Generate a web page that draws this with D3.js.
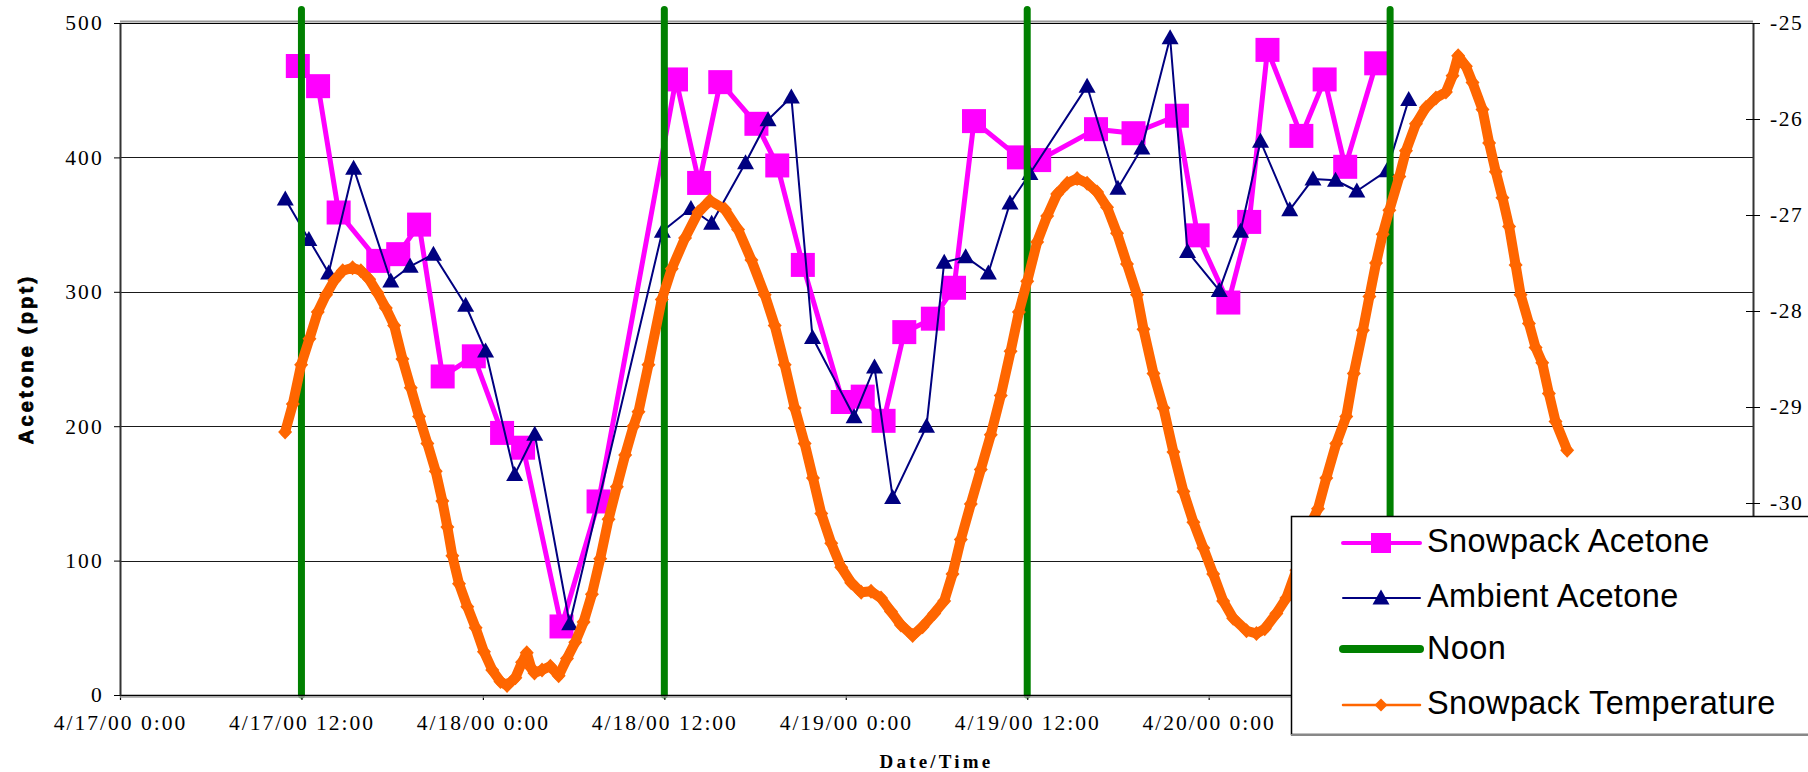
<!DOCTYPE html>
<html><head><meta charset="utf-8">
<script src="https://cdn.jsdelivr.net/npm/d3@7"></script>
<style>html,body{margin:0;padding:0;background:#fff;overflow:hidden}</style>
</head><body>
<svg id="c" width="1808" height="772"></svg>
<script>
// ---------------- data (hours since 4/17/00 0:00) ----------------
const axisStart = new Date(2000, 3, 17, 0, 0);
const axisEnd = new Date(2000, 3, 21, 12, 0);

const snowHours = [11.76,13.1,14.46,17.08,18.4,19.78,21.34,23.4,25.27,26.66,29.2,31.65,
  36.77,38.3,39.7,42.09,43.47,45.16,47.8,49.12,50.5,51.87,53.76,55.16,56.48,59.45,60.79,
  64.55,67.03,69.9,71.27,73.3,74.68,75.89,78.13,79.67,81.03,83.08];
const snowAcetone = [468,453,359,323,328,350,237,252,195,184,51,144,
  458,381,456,425,394,320,218,222,204,270,280,303,427,400,398,
  421,418,431,342,292,352,480,416,458,393,470];

const ambHours = [10.93,12.49,13.8,15.45,17.91,19.19,20.73,22.86,24.18,26.1,27.43,29.74,
  35.87,37.76,39.13,41.37,42.86,44.4,45.8,48.55,49.9,51.1,53.34,54.51,55.93,57.43,58.86,60.18,
  63.96,66.0,67.58,69.45,70.6,72.7,74.11,75.43,77.36,78.9,80.39,81.8,83.78,85.23];
const ambAcetone = [369,339,314,392,308,319,328,290,256,164,194,53,
  345,362,351,396,428,445,266,207,244,147,200,322,326,314,366,388,
  453,377,407,489,330,301,345,412,361,384,383,375,390,443];

const noonHours = [12, 36, 60, 84];
const noonSpan = [0, 510];

const tempHours = [10.92,11.43,11.98,12.53,13.08,13.63,14.18,14.73,15.38,15.93,16.48,17.03,17.58,18.13,
  18.68,19.23,19.78,20.33,20.88,21.32,21.65,21.98,22.42,22.97,23.52,24.07,24.62,25.16,25.6,26.15,
  26.59,26.9,27.2,27.41,27.91,28.46,29.01,29.56,30.11,30.66,31.21,31.76,32.31,32.86,33.41,33.96,
  34.29,34.95,35.83,36.49,37.37,38.25,39.01,40.0,40.88,41.76,42.64,43.3,43.96,44.62,45.28,45.83,
  46.38,47.04,47.7,48.36,49.02,49.67,50.33,50.99,51.65,52.42,53.08,53.85,54.51,55.06,55.61,56.27,
  56.93,57.59,58.25,58.9,59.45,60.0,60.66,61.32,61.98,62.64,63.3,63.96,64.62,65.28,65.94,66.6,
  67.26,67.69,68.35,69.01,69.67,70.33,70.99,71.65,72.3,72.96,73.62,74.5,75.16,75.71,76.48,77.14,
  77.8,78.5,79.23,79.78,80.44,81.1,81.6,82.2,82.63,83.07,83.51,83.95,84.61,85.05,85.71,86.37,
  87.03,87.69,88.13,88.5,89.01,89.45,90.11,90.55,90.99,91.43,91.87,92.3,92.63,93.18,93.62,94.06,
  94.5,94.94,95.71];
const tempValues = [-29.26,-28.97,-28.56,-28.29,-28.01,-27.83,-27.68,-27.58,-27.55,-27.58,-27.67,-27.81,-27.97,-28.15,
  -28.5,-28.8,-29.1,-29.38,-29.67,-29.98,-30.25,-30.55,-30.84,-31.08,-31.3,-31.55,-31.74,-31.86,-31.9,-31.82,
  -31.66,-31.56,-31.72,-31.77,-31.74,-31.7,-31.8,-31.62,-31.45,-31.24,-30.95,-30.58,-30.17,-29.83,-29.5,-29.2,
  -29.05,-28.56,-27.88,-27.56,-27.24,-26.97,-26.85,-26.94,-27.15,-27.47,-27.83,-28.15,-28.56,-29.01,-29.38,-29.74,
  -30.11,-30.42,-30.67,-30.83,-30.93,-30.92,-30.99,-31.13,-31.27,-31.38,-31.29,-31.15,-31.02,-30.74,-30.38,-30.01,
  -29.65,-29.29,-28.88,-28.42,-28.01,-27.69,-27.28,-27.01,-26.78,-26.67,-26.62,-26.67,-26.76,-26.92,-27.19,-27.51,
  -27.83,-28.19,-28.65,-29.01,-29.47,-29.88,-30.2,-30.47,-30.74,-31.02,-31.2,-31.33,-31.36,-31.31,-31.15,-30.99,
  -30.7,-30.3,-30.06,-29.74,-29.38,-29.1,-28.65,-28.2,-27.85,-27.5,-27.2,-26.95,-26.6,-26.33,-26.05,-25.88,
  -25.78,-25.72,-25.55,-25.34,-25.45,-25.62,-25.9,-26.25,-26.55,-26.82,-27.12,-27.52,-27.83,-28.13,-28.38,-28.54,
  -28.86,-29.15,-29.45];

const leftTicks = [0, 100, 200, 300, 400, 500];
const rightTicks = [-32, -31, -30, -29, -28, -27, -26, -25];
const legendLabels = ["Snowpack Acetone", "Ambient Acetone", "Noon", "Snowpack Temperature"];
const yTitle = "Acetone (ppt)";
const xTitle = "Date/Time";

// ---------------- layout ----------------
const L = 120, R = 1753, T = 23, B = 695;
const LEG = {x: 1291, y: 516, bottom: 735};
const C = {snow: "#FF00FF", amb: "#000080", noon: "#008000", temp: "#FF6600"};
const svg = d3.select("#c");
const toDate = h => new Date(axisStart.getTime() + h * 3600e3);

const x = d3.scaleTime().domain([axisStart, axisEnd]).range([L, R]);
const yL = d3.scaleLinear().domain([0, 500]).range([B, T]);
const yR = d3.scaleLinear().domain([-32, -25]).range([B, T]);

const serif = "'Liberation Serif','Times New Roman',serif";
const sans = "'Liberation Sans',Arial,sans-serif";

// gridlines
svg.append("g").selectAll("line").data(leftTicks.filter(d => d > 0 && d < 500)).join("line")
  .attr("x1", L).attr("x2", R)
  .attr("y1", d => Math.round(yL(d)) + 0.5).attr("y2", d => Math.round(yL(d)) + 0.5)
  .attr("stroke", "#1a1a1a").attr("stroke-width", 1);
// top frame
svg.append("line").attr("x1", L).attr("x2", R).attr("y1", yL(500) - 1.5).attr("y2", yL(500) - 1.5)
  .attr("stroke", "#9a9a9a").attr("stroke-width", 2);
svg.append("line").attr("x1", L).attr("x2", R).attr("y1", yL(500) + 0.5).attr("y2", yL(500) + 0.5)
  .attr("stroke", "#000").attr("stroke-width", 1);

// ---------------- series ----------------
const snowPts = snowHours.map((h, i) => [x(toDate(h)), yL(snowAcetone[i])]);
const ambPts = ambHours.map((h, i) => [x(toDate(h)), yL(ambAcetone[i])]);
const tempPts = tempHours.map((h, i) => [x(toDate(h)), yR(tempValues[i])]);
const line = d3.line();

// Snowpack acetone
svg.append("path").attr("d", line(snowPts)).attr("fill", "none")
  .attr("stroke", C.snow).attr("stroke-width", 5).attr("stroke-linejoin", "round");
svg.append("g").selectAll("rect").data(snowPts).join("rect")
  .attr("x", d => d[0] - 12).attr("y", d => d[1] - 12).attr("width", 24).attr("height", 24)
  .attr("fill", C.snow);

// Ambient acetone
const tri = "M0,-8.5L8.5,6.5L-8.5,6.5Z";
svg.append("path").attr("d", line(ambPts)).attr("fill", "none")
  .attr("stroke", C.amb).attr("stroke-width", 2).attr("stroke-linejoin", "round");
svg.append("g").selectAll("path").data(ambPts).join("path")
  .attr("d", tri).attr("transform", d => `translate(${d[0]},${d[1]})`).attr("fill", C.amb);

// Noon lines
svg.append("g").selectAll("line").data(noonHours).join("line")
  .attr("x1", h => x(toDate(h))).attr("x2", h => x(toDate(h)))
  .attr("y1", yL(noonSpan[0])).attr("y2", yL(noonSpan[1]))
  .attr("stroke", C.noon).attr("stroke-width", 7).attr("stroke-linecap", "round");

// Snowpack temperature (secondary axis): dense diamonds forming a band
const dia = "M0,-7.5L7,0L0,7.5L-7,0Z";
const diaLeg = "M0,-6.5L6.5,0L0,6.5L-6.5,0Z";
svg.append("path").attr("d", line(tempPts)).attr("fill", "none")
  .attr("stroke", C.temp).attr("stroke-width", 10).attr("stroke-linejoin", "round").attr("stroke-linecap", "round");
svg.append("g").selectAll("path").data(tempPts).join("path")
  .attr("d", dia).attr("transform", d => `translate(${d[0]},${d[1]})`).attr("fill", C.temp);

// ---------------- axes ----------------
const fmt = d3.timeFormat("%-m/%-d/%y %-H:%M");
const gx = svg.append("g").attr("transform", `translate(0,${B})`)
  .call(d3.axisBottom(x).ticks(d3.timeHour.every(12)).tickFormat(fmt).tickSize(5).tickSizeOuter(0));
gx.select(".domain").attr("stroke", "#000").attr("stroke-width", 1.5);
gx.selectAll(".tick line").attr("stroke", "#000").attr("stroke-width", 1.2);
gx.selectAll(".tick text").attr("y", 35).attr("dy", 0)
  .attr("font-family", serif).attr("font-size", 21.5).attr("letter-spacing", 2).attr("fill", "#000")
  .filter(d => x(d) + 60 > LEG.x).remove();   // these sit behind the legend in the reference
svg.append("line").attr("x1", L).attr("x2", R).attr("y1", B + 2).attr("y2", B + 2)
  .attr("stroke", "#a0a0a0").attr("stroke-width", 1.5);

const gy = svg.append("g").attr("transform", `translate(${L},0)`)
  .call(d3.axisLeft(yL).tickValues(leftTicks).tickFormat(d3.format("d")).tickSize(6).tickPadding(10).tickSizeOuter(0));
gy.select(".domain").attr("stroke", "#333").attr("stroke-width", 2);
gy.selectAll(".tick line").attr("stroke", "#000");
gy.selectAll(".tick text").attr("font-family", serif).attr("font-size", 21.5)
  .attr("letter-spacing", 2.2).attr("fill", "#000");

const gr = svg.append("g").attr("transform", `translate(${R},0)`)
  .call(d3.axisRight(yR).tickValues(rightTicks).tickFormat(d => String(d)).tickSize(7).tickPadding(10).tickSizeOuter(0));
gr.select(".domain").attr("stroke", "#333").attr("stroke-width", 2);
gr.selectAll(".tick line").attr("x1", -7).attr("stroke", "#000");
gr.selectAll(".tick text").attr("font-family", serif).attr("font-size", 21.5)
  .attr("letter-spacing", 1.5).attr("fill", "#000")
  .filter(d => yR(d) > LEG.y).remove();        // hidden behind the legend in the reference

// titles
svg.append("text").attr("transform", `translate(33,${(T + B) / 2}) rotate(-90)`)
  .attr("text-anchor", "middle").attr("font-family", sans).attr("font-weight", "bold")
  .attr("font-size", 20).attr("letter-spacing", 3.2).attr("stroke", "#000").attr("stroke-width", 0.8)
  .text(yTitle);
svg.append("text").attr("x", (L + R) / 2).attr("y", 768).attr("text-anchor", "middle")
  .attr("font-family", serif).attr("font-weight", "bold").attr("font-size", 19)
  .attr("letter-spacing", 3.2).text(xTitle);

// ---------------- legend ----------------
const lg = svg.append("g");
lg.append("rect").attr("x", LEG.x + 0.5).attr("y", LEG.y + 0.5).attr("width", 540).attr("height", LEG.bottom - LEG.y - 1)
  .attr("fill", "#fff").attr("stroke", "#000").attr("stroke-width", 1.5);
lg.append("line").attr("x1", LEG.x).attr("x2", 1808).attr("y1", LEG.bottom).attr("y2", LEG.bottom)
  .attr("stroke", "#888").attr("stroke-width", 2);
const rowsY = [543, 598, 649, 705];
const baseY = [552, 607, 659, 714];
const sx1 = 1343, sx2 = 1420, mx = 1381;
const legendStyle = [
  {c: C.snow, w: 4, m: "sq"}, {c: C.amb, w: 2, m: "tri"}, {c: C.noon, w: 8, m: null}, {c: C.temp, w: 2.5, m: "dia"}
];
legendLabels.forEach((lab, i) => {
  const s = legendStyle[i], y = rowsY[i];
  lg.append("line").attr("x1", sx1).attr("x2", sx2).attr("y1", y).attr("y2", y)
    .attr("stroke", s.c).attr("stroke-width", s.w).attr("stroke-linecap", "round");
  if (s.m === "sq") lg.append("rect").attr("x", mx - 10).attr("y", y - 10).attr("width", 20).attr("height", 20).attr("fill", s.c);
  if (s.m === "tri") lg.append("path").attr("d", tri).attr("transform", `translate(${mx},${y})`).attr("fill", s.c);
  if (s.m === "dia") lg.append("path").attr("d", diaLeg).attr("transform", `translate(${mx},${y})`).attr("fill", s.c);
  lg.append("text").attr("x", 1427).attr("y", baseY[i]).attr("font-family", sans)
    .attr("font-size", 32.5).attr("letter-spacing", 0.4).attr("fill", "#000").text(lab);
});
</script>
</body></html>
